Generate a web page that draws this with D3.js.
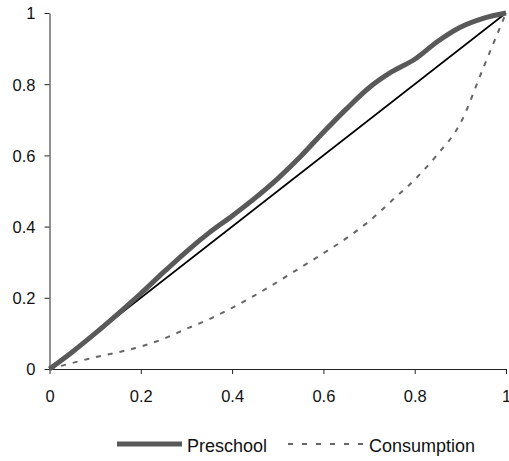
<!DOCTYPE html>
<html>
<head>
<meta charset="utf-8">
<script src="https://cdn.jsdelivr.net/npm/d3@7"></script>
<style>
body{margin:0;background:#fff}
text{font-family:"Liberation Sans",Arial,sans-serif}
</style>
</head>
<body>
<svg id="svg1" width="509" height="461"></svg>
<script>
var svg = d3.select("#svg1")

// share of population (x)
var share = [0,0.05,0.1,0.15,0.2,0.25,0.3,0.35,0.4,0.45,0.5,0.55,0.6,0.65,0.7,0.75,0.8,0.85,0.9,0.95,1]
var preschool = [0,0.048,0.1,0.155,0.212,0.272,0.33,0.383,0.43,0.48,0.535,0.597,0.665,0.73,0.79,0.835,0.87,0.92,0.96,0.985,1]
var consumption = [0,0.017,0.033,0.047,0.063,0.085,0.113,0.14,0.172,0.207,0.245,0.285,0.325,0.367,0.415,0.473,0.532,0.603,0.69,0.845,1]
var ticks = [0,0.2,0.4,0.6,0.8,1]
var legendNames = ["Preschool","Consumption"]

var x = d3.scaleLinear().domain([0,1]).range([49.5,506])
var y = d3.scaleLinear().domain([0,1]).range([369,13])

var fmt = function(d){ return d3.format("")(d) }

var gx = svg.append("g").attr("transform","translate(0,369)")
  .call(d3.axisBottom(x).tickValues(ticks).tickSize(5).tickSizeOuter(0).tickFormat(fmt))
var gy = svg.append("g").attr("transform","translate(49.5,0)")
  .call(d3.axisLeft(y).tickValues(ticks).tickSize(5).tickSizeOuter(0).tickFormat(fmt))

svg.selectAll(".domain").attr("stroke","#222")
svg.selectAll(".tick line").attr("stroke","#222")
svg.selectAll(".tick text").attr("font-size",16.5).attr("fill","#111")
  .style("font-family","Liberation Sans, Arial, sans-serif")
gx.selectAll(".tick text").attr("dy",0).attr("y",33)
gy.selectAll(".tick text").attr("x",-14).attr("dy","0.36em")

var line = d3.line().x(function(d){return x(d[0])}).y(function(d){return y(d[1])}).curve(d3.curveMonotoneX)

// equality line
svg.append("path")
  .datum([[0,0],[1,1]])
  .attr("d",line)
  .attr("fill","none")
  .attr("stroke","#000")
  .attr("stroke-width",1.6)

svg.append("path")
  .datum(share.map(function(s,i){return [s,consumption[i]]}))
  .attr("d",line)
  .attr("fill","none")
  .attr("stroke","#666")
  .attr("stroke-width",2)
  .attr("stroke-dasharray","5,7")

svg.append("path")
  .datum(share.map(function(s,i){return [s,preschool[i]]}))
  .attr("d",line)
  .attr("fill","none")
  .attr("stroke","#595959")
  .attr("stroke-width",5)

// legend
var lg = svg.append("g")
lg.append("line").attr("x1",117).attr("x2",182).attr("y1",444).attr("y2",444)
  .attr("stroke","#595959").attr("stroke-width",5)
lg.append("text").attr("x",187).attr("y",452).attr("font-size",18).attr("fill","#111").text(legendNames[0])
lg.append("line").attr("x1",288).attr("x2",364).attr("y1",444).attr("y2",444)
  .attr("stroke","#666").attr("stroke-width",2).attr("stroke-dasharray","5,9")
lg.append("text").attr("x",369).attr("y",452).attr("font-size",18).attr("fill","#111").text(legendNames[1])
</script>
</body>
</html>
